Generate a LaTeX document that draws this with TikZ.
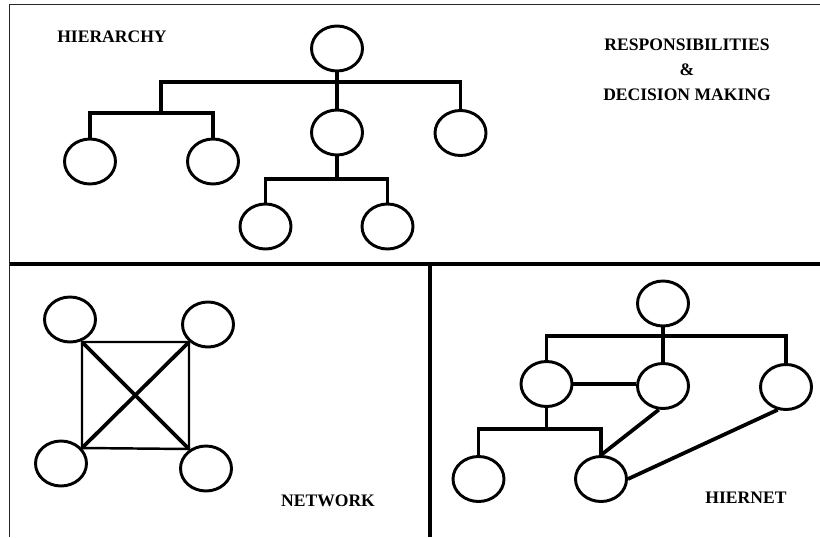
\documentclass[tikz,border=0pt]{standalone}
\usepackage{fontspec}
\setmainfont{Liberation Serif}
\usetikzlibrary{positioning, shapes.geometric}

\begin{document}
\begin{tikzpicture}[
    x=0.03cm, y=-0.03cm,
    unit/.style    = {ellipse, draw, line width=2.5pt, minimum width=1.53cm,
                      minimum height=1.35cm, inner sep=0pt},
    tree/.style    = {line width=2.8pt},
    link/.style    = {line width=2.1pt},
    cross/.style   = {line width=3.2pt},
    frame/.style   = {line width=1.7pt, black!85},
    divider/.style = {line width=3pt},
    title/.style   = {font=\bfseries\fontsize{15}{21.3}\selectfont,
                      align=center, inner sep=0pt}
  ]
  \useasboundingbox (0,0) rectangle (820,537);

  % ── Frame ───────────────────────────────────────────────────
  \draw[frame]   (9.5,537) -- (9.5,4.5) -- (820,4.5);
  \draw[divider] (9.5,264) -- (820,264);
  \draw[divider] (430,264) -- (430,537);

  % ── Hierarchy (top) ─────────────────────────────────────────
  \node[unit] (hr) at (337,48.5)   {};
  \node[unit] (hm) at (337,132.5)  {};
  \node[unit] (hc) at (460.5,133)  {};
  \node[unit] (ha) at (90,161.5)   {};
  \node[unit] (hb) at (213,161.5)  {};
  \node[unit] (hd) at (265.5,226.5) {};
  \node[unit] (he) at (387.5,226.5) {};
  \coordinate (hj)  at (337,82);
  \coordinate (hlj) at (161,113);
  \coordinate (hmj) at (337,179);

  \draw[tree] (hr) -- (hm);
  \draw[tree] (hlj) |- (hj) -| (hc.north);
  \draw[tree] (ha.north) |- (hlj) -| (hb.north);
  \draw[tree] (hm) -- (hmj);
  \draw[tree] (hd.north) |- (hmj) -| (he.north);

  \node[title] (lblhier) at (112,36.5) {HIERARCHY};
  \node[title] (lblresp) at (687,70)
    {RESPONSIBILITIES\\\&\\DECISION MAKING};

  % ── Network (bottom left) ───────────────────────────────────
  \node[unit] (na) at (70,319.5)  {};
  \node[unit] (nb) at (208,324.5) {};
  \node[unit] (nc) at (61,463.5)  {};
  \node[unit] (nd) at (206,468.5) {};
  \coordinate (sa) at (82,342);
  \coordinate (sb) at (189,342);
  \coordinate (sc) at (82,448);
  \coordinate (sd) at (189,449);

  \draw[link]  (sa) -- (sb) -- (sd) -- (sc) -- cycle;
  \draw[cross] (sa) -- (sd);
  \draw[cross] (sc) -- (sb);

  \node[title] (lblnet) at (328,501) {NETWORK};

  % ── Hiernet (bottom right) ──────────────────────────────────
  \node[unit] (gr) at (663,303.5) {};
  \node[unit] (ga) at (546.5,384) {};
  \node[unit] (gb) at (663,386)   {};
  \node[unit] (gc) at (786,387)   {};
  \node[unit] (gd) at (478.5,479) {};
  \node[unit] (ge) at (601,479)   {};
  \coordinate (gj)  at (663,336);
  \coordinate (gaj) at (546.5,429);

  \draw[tree] (gr) -- (gb);
  \draw[tree] (ga.north) |- (gj) -| (gc.north);
  \draw[tree] (ga.east) -- (ga.east -| gb.west);
  \draw[tree] (ga) -- (gaj);
  \draw[tree] (gd.north) |- (gaj) -| (ge.north);
  \draw[cross] (gb.-100) -- (ge.north);
  \draw[cross] (gc.-110) -- (ge.east);

  \node[title] (lblhnet) at (746,497.5) {HIERNET};

\end{tikzpicture}
\end{document}
